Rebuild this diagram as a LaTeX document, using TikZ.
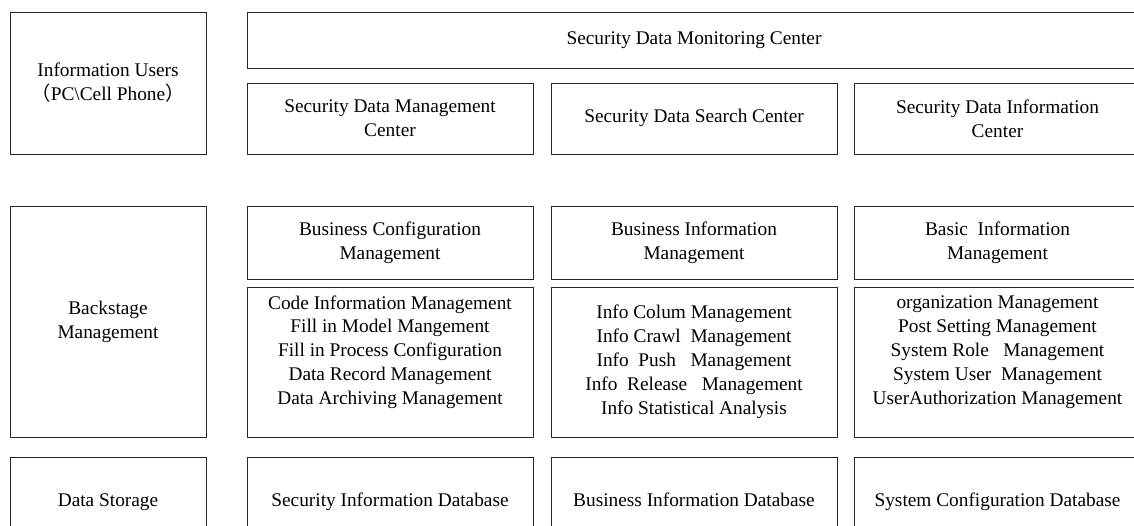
\documentclass[tikz,border=0pt]{standalone}
\usepackage{fontspec}
\setmainfont{Liberation Serif}
\newfontfamily\cjk{Noto Sans CJK SC}
\usepackage{tikz}
\definecolor{boxline}{RGB}{40,40,40}

\begin{document}
\begin{tikzpicture}[x=0.02cm, y=-0.02cm,
    blk/.style={draw=boxline, line width=0.5pt, align=center, inner sep=2pt,
        font=\fontsize{11}{13.6}\selectfont},
    oneline/.style={blk, text height=1.6ex, text depth=0.5ex}]
    \useasboundingbox (0,0) rectangle (1134,525);
    \clip (0,0) rectangle (1134,525);

    \node[blk, minimum width=3.92cm, minimum height=2.84cm] (users) at (108,83) {
        Information Users \\
        {\cjk （}PC\textbackslash Cell Phone{\cjk ）}
    };
    \node[blk, minimum width=3.92cm, minimum height=4.62cm] (backstage) at (108,321.5) {
        Backstage \\ Management
    };
    \node[oneline, minimum width=3.92cm, minimum height=1.8cm] (storage) at (108,502) {Data Storage};

    \node[oneline, minimum width=17.88cm, minimum height=1.12cm] (monitor) at (694,40) {Security Data Monitoring Center};

    \node[blk, minimum width=5.72cm, minimum height=1.42cm] (mgmtcenter) at (390,118.5) {
        Security Data Management \\ Center
    };
    \node[oneline, minimum width=5.72cm, minimum height=1.42cm] (searchcenter) at (694,118.5) {Security Data Search Center};
    \node[blk, minimum width=5.74cm, minimum height=1.42cm] (infocenter) at (997.5,118.5) {
        Security Data Information \\ Center
    };

    \node[blk, minimum width=5.72cm, minimum height=1.46cm] (bizconf) at (390,242.5) {
        Business Configuration \\ Management
    };
    \node[blk, minimum width=5.72cm, minimum height=1.46cm] (bizinfo) at (694,242.5) {
        Business Information \\ Management
    };
    \node[blk, minimum width=5.74cm, minimum height=1.46cm] (basicinfo) at (997.5,242.5) {
        Basic\ \ Information \\ Management
    };

    \node[blk, minimum width=5.72cm, minimum height=3cm] (conflist) at (390,362) {
        Code Information Management \\
        Fill in Model Mangement \\
        Fill in Process Configuration \\
        Data Record Management \\
        Data Archiving Management \\
        \mbox{}
    };
    \node[blk, minimum width=5.72cm, minimum height=3cm] (infolist) at (694,362) {
        Info Colum Management \\
        Info Crawl\ \ Management \\
        Info\ \ Push\ \ \ Management \\
        Info\ \ Release\ \ \ Management \\
        Info Statistical Analysis
    };
    \node[blk, minimum width=5.74cm, minimum height=3cm] (basiclist) at (997.5,362) {
        organization Management \\
        Post Setting Management \\
        System Role\ \ \ Management \\
        System User\ \ Management \\
        UserAuthorization Management \\
        \mbox{}
    };

    \node[oneline, minimum width=5.72cm, minimum height=1.8cm] (securedb) at (390,502) {Security Information Database};
    \node[oneline, minimum width=5.72cm, minimum height=1.8cm] (bizdb) at (694,502) {Business Information Database};
    \node[oneline, minimum width=5.74cm, minimum height=1.8cm] (configdb) at (997.5,502) {System Configuration Database};
\end{tikzpicture}
\end{document}
